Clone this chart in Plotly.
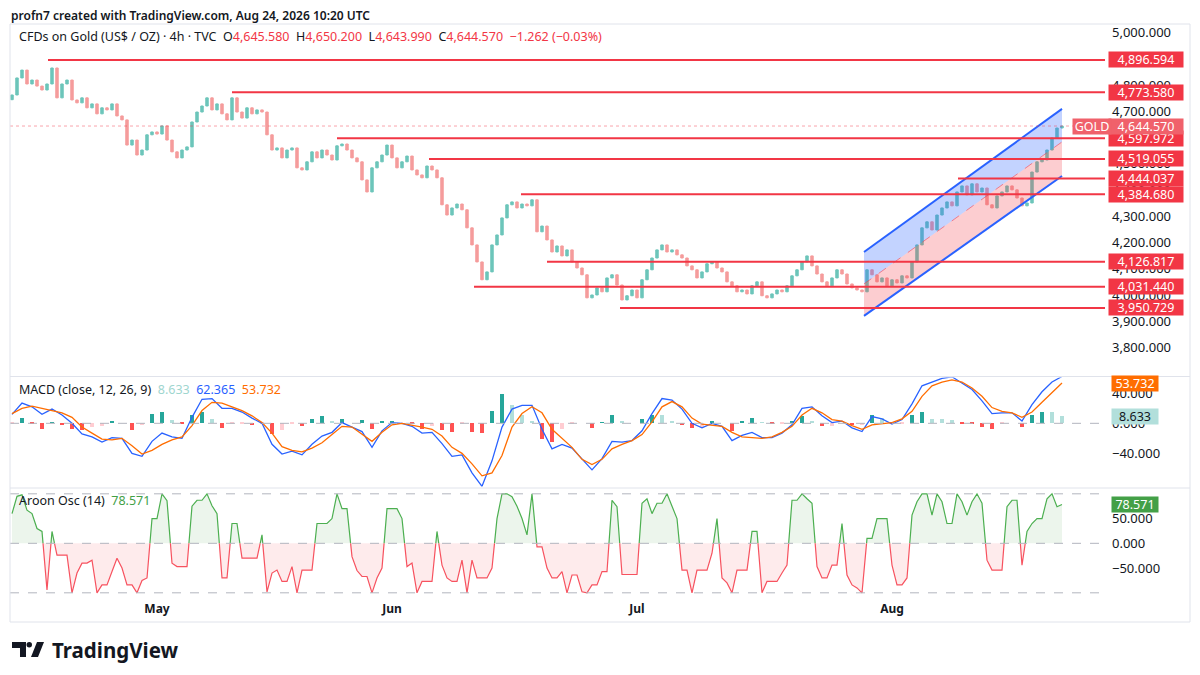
import numpy as np
import plotly.graph_objects as go
from plotly.subplots import make_subplots

# ---- data (one value per bar, 4h candles thinned) ----
first_open = 4745
close = [
    4763, 4828, 4858, 4805, 4820, 4797, 4782, 4805, 4866, 4752,
    4805, 4820, 4744, 4733, 4752, 4714, 4729, 4691, 4714, 4706,
    4729, 4683, 4668, 4572, 4591, 4534, 4553, 4611, 4622, 4614,
    4645, 4591, 4546, 4523, 4553, 4565, 4660, 4698, 4721, 4752,
    4706, 4729, 4691, 4668, 4752, 4698, 4675, 4714, 4691, 4706,
    4698, 4611, 4553, 4561, 4523, 4553, 4561, 4485, 4477, 4508,
    4546, 4523, 4553, 4534, 4515, 4569, 4576, 4553, 4523, 4508,
    4439, 4393, 4485, 4508, 4534, 4572, 4523, 4485, 4508, 4530,
    4477, 4458, 4447, 4492, 4477, 4447, 4344, 4305, 4332, 4347,
    4325, 4256, 4191, 4126, 4058, 4088, 4191, 4229, 4294, 4344,
    4355, 4332, 4347, 4340, 4363, 4241, 4263, 4210, 4164, 4187,
    4149, 4172, 4126, 4103, 4077, 3989, 4000, 4027, 4012, 4065,
    4077, 4038, 3981, 3997, 4019, 3989, 4058, 4096, 4141, 4172,
    4191, 4164, 4172, 4153, 4141, 4111, 4096, 4065, 4088, 4119,
    4126, 4103, 4088, 4050, 4035, 4012, 4019, 4004, 4035, 4050,
    3997, 3989, 4004, 4019, 4012, 4035, 4073, 4096, 4126, 4149,
    4111, 4080, 4050, 4035, 4065, 4096, 4080, 4042, 4027, 4019,
    4012, 4096, 4077, 4050, 4065, 4035, 4058, 4046, 4073, 4065,
    4126, 4191, 4256, 4279, 4248, 4305, 4332, 4355, 4340, 4393,
    4416, 4382, 4424, 4393, 4408, 4344, 4332, 4378, 4393, 4416,
    4401, 4370, 4340, 4351, 4469, 4508, 4515, 4553, 4599, 4637,
    4644.57,
]

# MACD / signal sampled every second bar
macd = [
    12, 27, 22, 12, 19, 11, 0, -14, -18, -25,
    -19, -20, -40, -44, -24, -13, -18, -20, 8, 32,
    33, 20, 20, 15, 7, 0, -28, -41, -37, -42,
    -28, -17, -12, 1, -5, -11, -32, -10, 1, 0,
    -4, -13, -12, -27, -44, -42, -66, -84, -50, -5,
    19, 24, 24, -8, -34, -28, -33, -48, -62, -47,
    -24, -25, -23, -10, 13, 33, 31, 19, 0, -6,
    0, -4, -23, -16, -12, -19, -19, -13, -2, 20,
    22, 10, 1, 3, -6, -11, 9, 6, -1, 5,
    26, 50, 55, 60, 62, 54, 45, 30, 13, 14,
    14, 3, 25, 42, 55, 62.365,
]
signal = [
    13, 20, 23, 20, 18, 14, 8, -5, -13, -21,
    -22, -20, -30, -41, -36, -28, -22, -18, -3, 17,
    28, 27, 22, 17, 10, 1, -13, -31, -36, -38,
    -33, -26, -15, -4, -5, -15, -24, -12, -2, 0,
    -2, -5, -8, -17, -32, -40, -54, -70, -66, -43,
    -5, 13, 22, 14, -8, -20, -32, -48, -55, -48,
    -34, -28, -23, -15, 2, 22, 29, 22, 7, -1,
    -2, -4, -12, -18, -19, -20, -18, -12, -4, 11,
    20, 14, 5, 3, -3, -8, -2, 0, 1, 6,
    16, 36, 50, 55, 58, 55, 47, 36, 21, 16,
    14, 8, 15, 28, 41, 53.732,
]

aroon = [
    60, 95, 98, 67, 60, 30, 24, -94, 24, -24,
    -24, -24, -100, -60, -40, -40, -34, -100, -84, -84,
    -57, -30, -50, -84, -84, -100, -75, -70, 50, 50,
    100, 86, -40, -47, -47, -47, 75, 87, 87, 100,
    76, 60, -70, -70, 40, 40, -30, -30, -30, -30,
    17, -98, -60, -54, -77, -77, -47, -100, -54, -54,
    -54, 40, 40, 40, 50, 100, 70, 70, -27, -55,
    -67, -67, -100, -70, -50, 70, 70, 70, 50, -47,
    -40, -100, -77, -77, -77, 24, -44, -70, -77, -77,
    -34, -100, -34, -70, -70, -70, -50, 50, 100, 100,
    94, 75, 50, 17, 100, -7, -7, -50, -70, -70,
    -57, -100, -64, -64, -98, -100, -84, -84, -57, -57,
    87, 74, -63, -63, -63, -63, 81, 90, 60, 81,
    81, 100, 75, 50, -54, -54, -100, -54, -54, -54,
    -20, 50, -70, -80, -100, -54, -54, -54, 24, 24,
    -100, -77, -77, -77, -60, -44, 87, 87, 100, 90,
    81, -47, -70, -70, -44, -44, 40, -64, -84, -90,
    -100, 10, 10, 50, 50, 50, -44, -84, -84, -70,
    57, 84, 100, 100, 57, 100, 84, 40, 40, 100,
    84, 57, 84, 100, 81, -34, -54, -54, -54, 74,
    87, 87, -44, 24, 40, 50, 50, 90, 100, 74,
    78.571,
]

month_idx = [29, 76, 125, 176]
month_lbl = ["May", "Jun", "Jul", "Aug"]

level_price = [4896.594, 4773.580, 4597.972, 4519.055, 4444.037,
               4384.680, 4126.817, 4031.440, 3950.729]
level_start = [7.2, 44, 65, 83.4, 189.2, 101.8, 107, 92.4, 121.6]

chan_idx = [170.4, 210]
chan_upper = [4164, 4710]
chan_mid = [4042, 4584]
chan_lower = [3920, 4454]

last_price = 4644.57

UP = "#6cc5ba"
DOWN = "#f59c9c"
RED = "#f23645"
BLUE = "#2962ff"
ORANGE = "#ff6d00"
GREEN = "#43a047"
TXT = "#131722"
FONT = "Noto Sans"

# the page puts the figure 8px in from the top-left corner,
# so the figure is 8px smaller and all screen positions are shifted by 8
OFF = 8


# pixel helpers in screen coordinates (plot area: x 10..1105, y 25..600)
def px(x):
    return (x - 10) / 1095.0


def py(y):
    return (600 - y) / 575.0


bar_idx = np.arange(len(close))
c = np.array(close, dtype=float)
o = np.concatenate([[first_open], c[:-1]])

fig = make_subplots(rows=3, cols=1, shared_xaxes=True, vertical_spacing=0.004)

fig.add_trace(go.Candlestick(
    x=bar_idx, open=o, close=c, high=np.maximum(o, c), low=np.minimum(o, c),
    increasing=dict(line=dict(color=UP, width=1), fillcolor=UP),
    decreasing=dict(line=dict(color=DOWN, width=1), fillcolor=DOWN),
    whiskerwidth=0, showlegend=False, hoverinfo="skip"), row=1, col=1)

# channel drawing
fig.add_trace(go.Scatter(
    x=[chan_idx[0], chan_idx[1], chan_idx[1], chan_idx[0]],
    y=[chan_upper[0], chan_upper[1], chan_mid[1], chan_mid[0]],
    fill="toself", fillcolor="rgba(41,98,255,0.28)", mode="none",
    showlegend=False, hoverinfo="skip"), row=1, col=1)
fig.add_trace(go.Scatter(
    x=[chan_idx[0], chan_idx[1], chan_idx[1], chan_idx[0]],
    y=[chan_mid[0], chan_mid[1], chan_lower[1], chan_lower[0]],
    fill="toself", fillcolor="rgba(242,54,69,0.25)", mode="none",
    showlegend=False, hoverinfo="skip"), row=1, col=1)
for ys, dash, col, w in [(chan_upper, "solid", BLUE, 2), (chan_lower, "solid", BLUE, 2),
                         (chan_mid, "dash", "rgba(242,54,69,0.55)", 1)]:
    fig.add_trace(go.Scatter(x=chan_idx, y=ys, mode="lines",
                             line=dict(color=col, width=w, dash=dash),
                             showlegend=False, hoverinfo="skip"), row=1, col=1)

# MACD panel
m_idx = np.arange(0, len(close), 2)[:len(macd)]
m = np.array(macd, dtype=float)
s = np.array(signal, dtype=float)
h = m - s
hcol = []
for i, v in enumerate(h):
    prev = h[i - 1] if i > 0 else v
    if v >= 0:
        hcol.append("#26a69a" if v > prev else "#b2dfdb")
    else:
        hcol.append("#ff5252" if v < prev else "#ffcdd2")
fig.add_trace(go.Bar(x=m_idx, y=h, marker_color=hcol, marker_line_width=0,
                     width=0.9, showlegend=False, hoverinfo="skip"), row=2, col=1)
fig.add_trace(go.Scatter(x=m_idx, y=m, mode="lines", line=dict(color=BLUE, width=1.3),
                         showlegend=False, hoverinfo="skip"), row=2, col=1)
fig.add_trace(go.Scatter(x=m_idx, y=s, mode="lines", line=dict(color=ORANGE, width=1.3),
                         showlegend=False, hoverinfo="skip"), row=2, col=1)

# Aroon oscillator, split at zero for the two colours
ax, ay = [float(bar_idx[0])], [float(aroon[0])]
for i in range(1, len(aroon)):
    a, b = aroon[i - 1], aroon[i]
    if (a > 0 > b) or (a < 0 < b):
        t = a / (a - b)
        ax.append(i - 1 + t)
        ay.append(0.0)
    ax.append(float(i))
    ay.append(float(b))
ax = np.array(ax)
ay = np.array(ay)
fig.add_trace(go.Scatter(x=ax, y=np.maximum(ay, 0), fill="tozeroy", mode="none",
                         fillcolor="rgba(67,160,71,0.10)", showlegend=False,
                         hoverinfo="skip"), row=3, col=1)
fig.add_trace(go.Scatter(x=ax, y=np.minimum(ay, 0), fill="tozeroy", mode="none",
                         fillcolor="rgba(242,54,69,0.10)", showlegend=False,
                         hoverinfo="skip"), row=3, col=1)
fig.add_trace(go.Scatter(x=ax, y=np.where(ay >= 0, ay, np.nan), mode="lines",
                         line=dict(color="#4caf50", width=1.2), showlegend=False,
                         hoverinfo="skip"), row=3, col=1)
fig.add_trace(go.Scatter(x=ax, y=np.where(ay <= 0, ay, np.nan), mode="lines",
                         line=dict(color="#f7525f", width=1.2), showlegend=False,
                         hoverinfo="skip"), row=3, col=1)

# ---- shapes ----
shapes = []
for p, x0 in zip(level_price, level_start):
    shapes.append(dict(type="line", xref="x", yref="y", x0=x0, x1=218.6, y0=p, y1=p,
                       line=dict(color=RED, width=2)))
shapes.append(dict(type="line", xref="paper", yref="y", x0=0, x1=1, y0=last_price,
                   y1=last_price, line=dict(color="rgba(242,54,69,0.45)", width=1, dash="dot")))
shapes.append(dict(type="line", xref="paper", yref="y2", x0=0, x1=1, y0=0, y1=0,
                   line=dict(color="#b2b5be", width=1, dash="dash")))
for v in [100, 0, -100]:
    shapes.append(dict(type="line", xref="paper", yref="y3", x0=0, x1=1, y0=v, y1=v,
                       line=dict(color="#b2b5be", width=1, dash="dash")))
# frame and pane separators
shapes.append(dict(type="rect", xref="paper", yref="paper", x0=px(10), x1=px(1190),
                   y0=py(622), y1=py(24), line=dict(color="#e0e3eb", width=1)))
for yy in [376.5, 488]:
    shapes.append(dict(type="line", xref="paper", yref="paper", x0=px(10), x1=px(1190),
                       y0=py(yy), y1=py(yy), line=dict(color="#e0e3eb", width=1)))


def path(points):
    return "M " + " L ".join(f"{px(a):.5f},{py(b):.5f}" for a, b in points) + " Z"


# TradingView logo
shapes.append(dict(type="path", xref="paper", yref="paper", fillcolor=TXT, line_width=0,
                   path=path([(12, 642), (26, 642), (26, 657), (20, 657), (20, 648), (12, 648)])))
shapes.append(dict(type="circle", xref="paper", yref="paper", fillcolor=TXT, line_width=0,
                   x0=px(26.5), x1=px(32), y0=py(642), y1=py(647.5)))
shapes.append(dict(type="path", xref="paper", yref="paper", fillcolor=TXT, line_width=0,
                   path=path([(31, 657), (37, 642), (44, 642), (38, 657)])))

# ---- annotations ----
ann = []
ann.append(dict(xref="paper", yref="paper", x=px(9), y=py(15.5), xanchor="left",
                yanchor="middle", showarrow=False,
                text="profn7 created with TradingView.com, Aug 24, 2026 10:20 UTC",
                font=dict(family=FONT, size=12, color=TXT, weight=600)))
rs = f"<span style='color:{RED}'>"
ann.append(dict(xref="paper", yref="paper", x=px(17), y=py(37), xanchor="left",
                yanchor="middle", showarrow=False,
                text=("CFDs on Gold (US$ / OZ) · 4h · TVC\u00a0\u00a0"
                      f"O{rs}4,645.580</span>\u00a0\u00a0H{rs}4,650.200</span>\u00a0\u00a0"
                      f"L{rs}4,643.990</span>\u00a0\u00a0C{rs}4,644.570</span>\u00a0\u00a0"
                      f"{rs}\u22121.262 (\u22120.03%)</span>"),
                font=dict(family=FONT, size=12.5, color=TXT)))
ann.append(dict(xref="paper", yref="paper", x=px(17), y=py(389), xanchor="left",
                yanchor="middle", showarrow=False,
                text=("MACD (close, 12, 26, 9)\u00a0\u00a0<span style='color:#9fd6cf'>8.633</span>"
                      f"\u00a0\u00a0<span style='color:{BLUE}'>62.365</span>"
                      f"\u00a0\u00a0<span style='color:{ORANGE}'>53.732</span>"),
                font=dict(family=FONT, size=12.5, color=TXT)))
ann.append(dict(xref="paper", yref="paper", x=px(17), y=py(500), xanchor="left",
                yanchor="middle", showarrow=False,
                text=f"Aroon Osc (14)\u00a0\u00a0<span style='color:{GREEN}'>78.571</span>",
                font=dict(family=FONT, size=12.5, color=TXT)))
ann.append(dict(xref="paper", yref="paper", x=px(50), y=py(650), xanchor="left",
                yanchor="middle", showarrow=False, text="<b>TradingView</b>",
                font=dict(family=FONT, size=20.5, color=TXT)))


def tag(text, yref, yval, bg, fg="white", xc=1146, w=74):
    return dict(xref="paper", yref=yref, x=px(xc), y=yval, xanchor="center",
                yanchor="middle", showarrow=False, text=text, bgcolor=bg,
                width=w, height=15, borderpad=0,
                font=dict(family=FONT, size=12.5, color=fg))


for p in level_price:
    ann.append(tag(f"{p:,.3f}", "y", p, RED))
ann.append(tag(f"{last_price:,.3f}", "y", last_price, "#f0616b"))
ann.append(tag("GOLD", "y", last_price, "#f0616b", xc=1092, w=38))
ann.append(tag(f"{macd[-1] - signal[-1]:.3f}", "y2", macd[-1] - signal[-1],
               "#b2dfdb", fg=TXT, xc=1135, w=46))
ann.append(tag(f"{signal[-1]:.3f}", "y2", signal[-1], ORANGE, xc=1135, w=46))
ann.append(tag(f"{aroon[-1]:.3f}", "y3", aroon[-1], GREEN, xc=1135, w=46))

tickfont = dict(family=FONT, size=13, color=TXT)
fig.update_layout(
    width=1200 - OFF, height=675 - OFF,
    margin=dict(l=10 - OFF, r=95, t=25 - OFF, b=75),
    paper_bgcolor="white", plot_bgcolor="white",
    shapes=shapes, annotations=ann, bargap=0,
    xaxis=dict(rangeslider=dict(visible=False)),
    yaxis=dict(domain=[0.391, 1.0], range=[3694, 5030], side="right",
               tickvals=list(range(3800, 5001, 100)), tickformat=",.3f"),
    yaxis2=dict(domain=[0.197, 0.387], range=[-84.5, 61.1], side="right",
                tickvals=[-40, 0, 40], tickformat=".3f"),
    yaxis3=dict(domain=[0.0, 0.193], range=[-114.5, 109.7], side="right",
                tickvals=[-50, 0, 50], tickformat=".3f"),
)
fig.update_xaxes(range=[-0.4, 218.6], showgrid=False, zeroline=False, showline=False,
                 ticks="", showticklabels=False)
fig.update_xaxes(showticklabels=True, tickvals=month_idx, ticktext=month_lbl,
                 tickfont=dict(family=FONT, size=12, color=TXT, weight="bold"),
                 row=3, col=1)
fig.update_yaxes(showgrid=False, zeroline=False, showline=False, ticks="",
                 tickfont=tickfont, ticklabelstandoff=6)

fig.write_html("out.html")
